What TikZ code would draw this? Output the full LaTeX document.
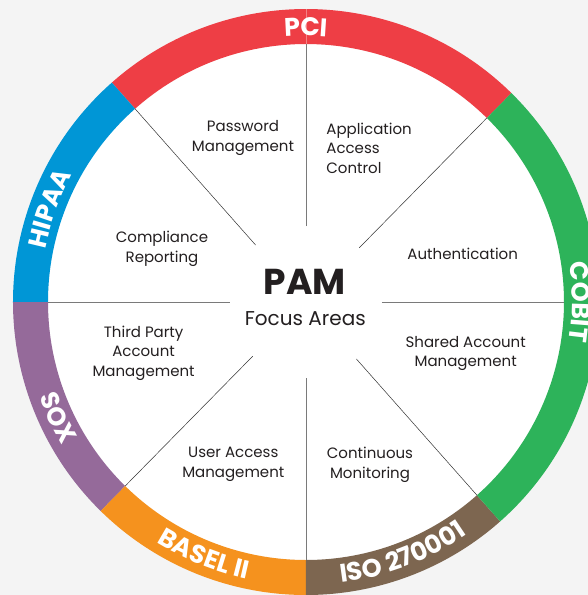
\documentclass[tikz,border=0pt]{standalone}
\usepackage{fontspec}
\setmainfont{Poppins}
\usetikzlibrary{decorations.text}
\definecolor{bg}{HTML}{F4F4F4}
\definecolor{pcired}{HTML}{EE3E45}
\definecolor{hipaablue}{HTML}{0096D6}
\definecolor{soxpurple}{HTML}{956A9A}
\definecolor{baselorange}{HTML}{F5921E}
\definecolor{isobrown}{HTML}{7D6650}
\definecolor{cobitgreen}{HTML}{2DB35A}
\definecolor{txt}{HTML}{231F20}
\definecolor{sepgray}{HTML}{7A7A7A}
\definecolor{diaggray}{HTML}{333333}
\newcommand\ringseg[3]{\fill[#3] (#1:293pt) arc[start angle=#1, end angle=#2, radius=293pt] -- (#2:258pt) arc[start angle=#2, end angle=#1, radius=258pt] -- cycle;}
\newcommand\ringfnt{\fontsize{25.5}{25.5}\selectfont\bfseries}
\newcommand\ringlabel[4]{\path[decorate, decoration={text along path, text align=center, text color=white, text={|\ringfnt|#4}}] (#1:#3pt) arc[start angle=#1, end angle=#2, radius=#3pt];}
\tikzset{
  area/.style={text=txt, align=center, font=\fontsize{15}{19.5}\selectfont, inner sep=0pt},
  straightsep/.style={draw=sepgray, line width=0.9pt},
  diagsep/.style={draw=diaggray, line width=0.5pt},
}
\begin{document}
\begin{tikzpicture}
\useasboundingbox (-306pt,-293pt) rectangle (282pt,302pt);
\clip (-306pt,-293pt) rectangle (282pt,302pt);
\fill[bg] (-306pt,-293pt) rectangle (282pt,302pt);
\fill[white] (0,0) circle[radius=258pt];
\ringseg{45.5}{131.5}{pcired}
\ringseg{131.5}{180}{hipaablue}
\ringseg{180}{225.5}{soxpurple}
\ringseg{225.5}{270}{baselorange}
\ringseg{270}{311.5}{isobrown}
\ringseg{311.5}{405.5}{cobitgreen}
\draw[white, opacity=0.35, line width=0.5pt] (90:258pt) -- (90:293pt);
% separators
\foreach \a/\n in {0/e,45.5/ne,90/n,131.5/nw,180/w,225.5/sw,270/s,311.5/se}{
  \coordinate (in\n) at (\a:76pt);
  \coordinate (out\n) at (\a:258pt);
}
\draw[straightsep] (inn) -- (outn);
\draw[straightsep] (ins) -- (outs);
\draw[straightsep] (ine) -- (oute);
\draw[straightsep] (inw) -- (outw);
\draw[diagsep] (inne) -- (outne);
\draw[diagsep] (innw) -- (outnw);
\draw[diagsep] (insw) -- (outsw);
\draw[diagsep] (inse) -- (outse);
% ring labels
\ringlabel{130}{50}{266}{PCI}
\ringlabel{200}{120}{266}{HIPAA}
\ringlabel{40}{-40}{266}{COBIT}
\ringlabel{165}{245}{283}{SOX}
\ringlabel{208}{288}{283}{BASEL II}
\ringlabel{251}{331}{283}{ISO 270001}
% centre
\node[text=txt, font=\fontsize{36}{36}\selectfont\bfseries, inner sep=0pt] (pam) at (-1pt,20.3pt) {PAM};
\node[text=txt, font=\fontsize{20}{20}\selectfont, inner sep=0pt] (focus) at (-0.7pt,-17pt) {Focus Areas};
% focus areas
\node[area] (pwd) at (-63pt,164pt) {Password\\Management};
\node[area, align=left, anchor=west] (aac) at (20.2pt,154pt) {Application\\Access\\Control};
\node[area] (comp) at (-144pt,53.2pt) {Compliance\\Reporting};
\node[area] (auth) at (156.7pt,48pt) {Authentication};
\node[area] (tpam) at (-162.4pt,-51pt) {Third Party\\Account\\Management};
\node[area] (sam) at (159.7pt,-51.7pt) {Shared Account\\Management};
\node[area] (uam) at (-72.7pt,-162.2pt) {User Access\\Management};
\node[area] (cm) at (64pt,-162.7pt) {Continuous\\Monitoring};
\end{tikzpicture}
\end{document}
